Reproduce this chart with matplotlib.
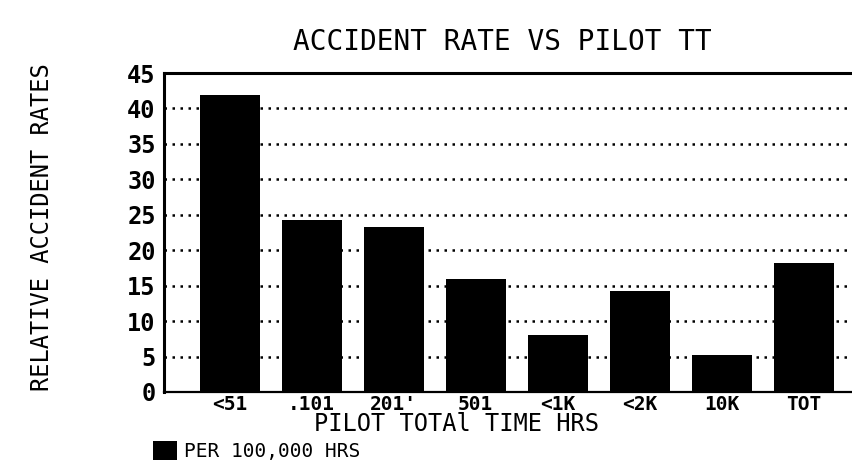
import matplotlib.pyplot as plt

# data
categories = ["<51", ".101", "201'", "501", "<1K", "<2K", "10K", "TOT"]
rates = [41.9, 24.2, 23.3, 15.9, 8.1, 14.2, 5.2, 18.2]
y_ticks = [0, 5, 10, 15, 20, 25, 30, 35, 40, 45]
y_tick_labels = ["0", "5", "10", "15", "20", "25", "30", "35", "40", "45"]

plt.rcParams["font.family"] = ["DejaVu Sans Mono"]

fig = plt.figure(figsize=(8.52, 4.65), dpi=100)
ax = fig.add_axes([0.1925, 0.157, 0.8075, 0.686])

x = range(len(categories))
bars = ax.bar(
    x,
    rates,
    width=0.73,
    color="black",
    zorder=3,
    label="PER 100,000 HRS",
)

ax.set_xlim(-0.8, 7.59)
ax.set_ylim(0, 45)
ax.set_yticks(y_ticks)
ax.set_yticklabels(y_tick_labels, fontsize=17, fontweight="bold")
ax.set_xticks(list(x))
ax.set_xticklabels(categories, fontsize=14, fontweight="bold")
ax.tick_params(axis="y", length=0, pad=6)
ax.tick_params(axis="x", length=0, pad=2)

# dotted horizontal grid behind the bars
ax.yaxis.grid(True, color="black", linestyle=(0, (1, 2.2)), linewidth=1.8, zorder=0)
ax.set_axisbelow(True)

ax.spines["right"].set_visible(False)
ax.spines["left"].set_linewidth(2.2)
ax.spines["top"].set_linewidth(2.2)
ax.spines["bottom"].set_linewidth(1.6)

fig.text(0.59, 0.91, "ACCIDENT RATE VS PILOT TT", ha="center", va="center",
         fontsize=20)
fig.text(0.049, 0.512, "RELATIVE ACCIDENT RATES", ha="center", va="center",
         rotation=90, fontsize=17)
fig.text(0.536, 0.088, "PILOT TOTAl TIME HRS", ha="center", va="center",
         fontsize=17)

fig.legend(
    handles=[bars],
    labels=["PER 100,000 HRS"],
    loc="center left",
    bbox_to_anchor=(0.18, 0.03),
    frameon=False,
    fontsize=14,
    handlelength=1.2,
    handleheight=1.1,
    handletextpad=0.4,
    borderaxespad=0,
    borderpad=0,
)

plt.savefig("out.png", dpi=100)
